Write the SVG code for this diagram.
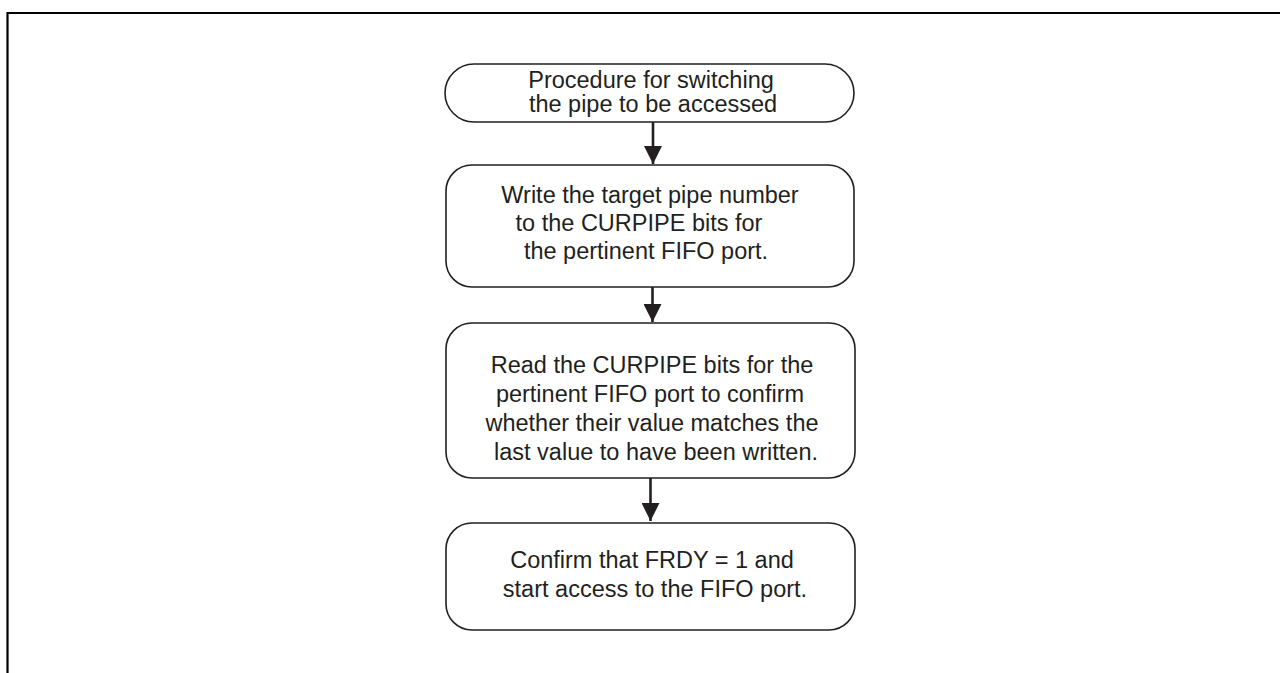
<svg xmlns="http://www.w3.org/2000/svg" width="1280" height="673" viewBox="0 0 1280 673">
<style>
.box{fill:#fff;stroke:#231f20;stroke-width:1.6}
.t{font-family:"Liberation Sans",Arial,sans-serif;font-size:23.5px;fill:#231f20;text-anchor:middle}
.c{stroke:#231f20;stroke-width:2.6;fill:none}
.frame{stroke:#000;stroke-width:2.2;fill:none}
</style>
<defs>
<marker id="ah" viewBox="0 0 18 18" refX="18" refY="9" markerWidth="18" markerHeight="18" markerUnits="userSpaceOnUse" orient="auto">
<path d="M0,0 L18,9 L0,18 Z" fill="#231f20"/>
</marker>
</defs>
<path class="frame" d="M7.5,673 V13 H1280"/>
<g id="n1">
<rect class="box" x="445" y="64" width="409" height="58" rx="29"/>
<text class="t" x="651" y="88">Procedure for switching</text>
<text class="t" x="653" y="112">the pipe to be accessed</text>
</g>
<g id="n2">
<rect class="box" x="446" y="165" width="408" height="122" rx="26"/>
<text class="t" x="650" y="203">Write the target pipe number</text>
<text class="t" x="639" y="231">to the CURPIPE bits for</text>
<text class="t" x="646" y="259">the pertinent FIFO port.</text>
</g>
<g id="n3">
<rect class="box" x="446" y="323" width="409" height="155" rx="26"/>
<text class="t" x="652" y="373">Read the CURPIPE bits for the</text>
<text class="t" x="650" y="402">pertinent FIFO port to confirm</text>
<text class="t" x="652" y="431">whether their value matches the</text>
<text class="t" x="656" y="460">last value to have been written.</text>
</g>
<g id="n4">
<rect class="box" x="446" y="523" width="409" height="107" rx="26"/>
<text class="t" x="652" y="568">Confirm that FRDY = 1 and</text>
<text class="t" x="655" y="597">start access to the FIFO port.</text>
</g>
<g id="connectors">
<line class="c" x1="653" y1="122" x2="653" y2="164" marker-end="url(#ah)"/>
<line class="c" x1="652.5" y1="287" x2="652.5" y2="322" marker-end="url(#ah)"/>
<line class="c" x1="650.5" y1="478" x2="650.5" y2="521" marker-end="url(#ah)"/>
</g>
</svg>
